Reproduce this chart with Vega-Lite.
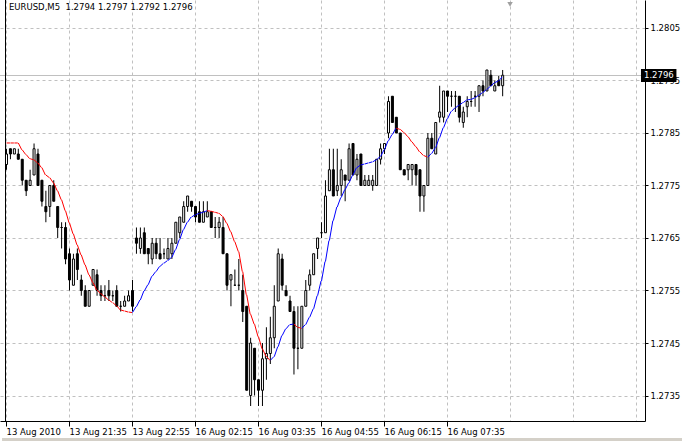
{
  "$schema": "https://vega.github.io/schema/vega-lite/v6.json",
  "width": 645,
  "height": 421,
  "autosize": "none",
  "padding": {"left": 0, "top": 0, "right": 37, "bottom": 20},
  "background": "white",
  "config": {"view": {"stroke": null}},
  "data": {"values": [
    {"i":0,"o":1.2779,"h":1.2782,"l":1.2778,"c":1.2781,"m":1.27831},
    {"i":1,"o":1.2782,"h":1.2782,"l":1.2780,"c":1.2781,"m":1.27831},
    {"i":2,"o":1.2781,"h":1.2782,"l":1.2781,"c":1.2782,"m":1.27831},
    {"i":3,"o":1.2781,"h":1.2782,"l":1.2780,"c":1.2780,"m":1.27831},
    {"i":4,"o":1.2780,"h":1.2780,"l":1.2775,"c":1.2776,"m":1.27818},
    {"i":5,"o":1.2776,"h":1.2776,"l":1.2773,"c":1.2774,"m":1.27809},
    {"i":6,"o":1.2775,"h":1.2778,"l":1.2775,"c":1.2776,"m":1.27801},
    {"i":7,"o":1.2777,"h":1.2783,"l":1.2777,"c":1.2782,"m":1.27799},
    {"i":8,"o":1.2781,"h":1.2782,"l":1.2775,"c":1.2775,"m":1.27793},
    {"i":9,"o":1.2776,"h":1.2776,"l":1.2771,"c":1.2772,"m":1.27784},
    {"i":10,"o":1.2771,"h":1.2774,"l":1.2768,"c":1.2770,"m":1.27770},
    {"i":11,"o":1.2771,"h":1.2775,"l":1.2769,"c":1.2775,"m":1.27765},
    {"i":12,"o":1.2775,"h":1.2776,"l":1.2772,"c":1.2772,"m":1.27755},
    {"i":13,"o":1.2771,"h":1.2771,"l":1.2765,"c":1.2767,"m":1.27740},
    {"i":14,"o":1.2767,"h":1.2768,"l":1.2763,"c":1.2767,"m":1.27723},
    {"i":15,"o":1.2767,"h":1.2768,"l":1.2760,"c":1.2761,"m":1.27702},
    {"i":16,"o":1.2762,"h":1.2763,"l":1.2755,"c":1.2757,"m":1.27679},
    {"i":17,"o":1.2756,"h":1.2762,"l":1.2756,"c":1.2761,"m":1.27658},
    {"i":18,"o":1.2762,"h":1.2763,"l":1.2757,"c":1.2759,"m":1.27637},
    {"i":19,"o":1.2757,"h":1.2758,"l":1.2754,"c":1.2755,"m":1.27618},
    {"i":20,"o":1.2755,"h":1.2756,"l":1.2752,"c":1.2752,"m":1.27599},
    {"i":21,"o":1.2752,"h":1.2755,"l":1.2752,"c":1.2755,"m":1.27580},
    {"i":22,"o":1.2756,"h":1.2759,"l":1.2756,"c":1.2759,"m":1.27565},
    {"i":23,"o":1.2758,"h":1.2759,"l":1.2754,"c":1.2755,"m":1.27551},
    {"i":24,"o":1.2755,"h":1.2756,"l":1.2753,"c":1.2754,"m":1.27544},
    {"i":25,"o":1.2754,"h":1.2756,"l":1.2753,"c":1.2754,"m":1.27538},
    {"i":26,"o":1.2755,"h":1.2757,"l":1.2753,"c":1.2754,"m":1.27532},
    {"i":27,"o":1.2754,"h":1.2755,"l":1.2753,"c":1.2754,"m":1.27527},
    {"i":28,"o":1.2755,"h":1.2756,"l":1.2752,"c":1.2752,"m":1.27521},
    {"i":29,"o":1.2752,"h":1.2753,"l":1.2751,"c":1.2752,"m":1.27513},
    {"i":30,"o":1.2752,"h":1.2754,"l":1.2752,"c":1.2753,"m":1.27511},
    {"i":31,"o":1.2753,"h":1.2755,"l":1.2753,"c":1.2754,"m":1.27509},
    {"i":32,"o":1.2755,"h":1.2757,"l":1.2751,"c":1.2752,"m":1.27508},
    {"i":33,"o":1.2765,"h":1.2767,"l":1.2762,"c":1.2764,"m":1.27519},
    {"i":34,"o":1.2763,"h":1.2767,"l":1.2762,"c":1.2765,"m":1.27532},
    {"i":35,"o":1.2766,"h":1.2767,"l":1.2762,"c":1.2762,"m":1.27549},
    {"i":36,"o":1.2763,"h":1.2763,"l":1.2760,"c":1.2762,"m":1.27561},
    {"i":37,"o":1.2761,"h":1.2765,"l":1.2760,"c":1.2764,"m":1.27577},
    {"i":38,"o":1.2764,"h":1.2765,"l":1.2761,"c":1.2762,"m":1.27586},
    {"i":39,"o":1.2762,"h":1.2765,"l":1.2761,"c":1.2761,"m":1.27596},
    {"i":40,"o":1.2762,"h":1.2763,"l":1.2761,"c":1.2762,"m":1.27602},
    {"i":41,"o":1.2761,"h":1.2765,"l":1.2761,"c":1.2763,"m":1.27607},
    {"i":42,"o":1.2762,"h":1.2765,"l":1.2761,"c":1.2764,"m":1.27613},
    {"i":43,"o":1.2764,"h":1.2768,"l":1.2764,"c":1.2768,"m":1.27628},
    {"i":44,"o":1.2766,"h":1.2769,"l":1.2765,"c":1.2769,"m":1.27647},
    {"i":45,"o":1.2768,"h":1.2772,"l":1.2768,"c":1.2771,"m":1.27666},
    {"i":46,"o":1.2771,"h":1.2773,"l":1.2770,"c":1.2773,"m":1.27680},
    {"i":47,"o":1.2772,"h":1.2772,"l":1.2770,"c":1.2771,"m":1.27690},
    {"i":48,"o":1.2771,"h":1.2771,"l":1.2768,"c":1.2769,"m":1.27694},
    {"i":49,"o":1.2770,"h":1.2772,"l":1.2768,"c":1.2768,"m":1.27697},
    {"i":50,"o":1.2768,"h":1.2772,"l":1.2768,"c":1.2770,"m":1.27699},
    {"i":51,"o":1.2769,"h":1.2772,"l":1.2769,"c":1.2770,"m":1.27702},
    {"i":52,"o":1.2770,"h":1.2770,"l":1.2767,"c":1.2767,"m":1.27701},
    {"i":53,"o":1.2767,"h":1.2769,"l":1.2765,"c":1.2767,"m":1.27699},
    {"i":54,"o":1.2767,"h":1.2769,"l":1.2765,"c":1.2768,"m":1.27697},
    {"i":55,"o":1.2767,"h":1.2769,"l":1.2762,"c":1.2762,"m":1.27691},
    {"i":56,"o":1.2762,"h":1.2762,"l":1.2755,"c":1.2756,"m":1.27678},
    {"i":57,"o":1.2757,"h":1.2758,"l":1.2752,"c":1.2758,"m":1.27662},
    {"i":58,"o":1.2756,"h":1.2759,"l":1.2756,"c":1.2756,"m":1.27643},
    {"i":59,"o":1.2756,"h":1.2761,"l":1.2755,"c":1.2756,"m":1.27624},
    {"i":60,"o":1.2755,"h":1.2758,"l":1.2749,"c":1.2751,"m":1.27586},
    {"i":61,"o":1.2752,"h":1.2752,"l":1.2736,"c":1.2736,"m":1.27542},
    {"i":62,"o":1.2735,"h":1.2746,"l":1.2733,"c":1.2745,"m":1.27505},
    {"i":63,"o":1.2744,"h":1.2744,"l":1.2735,"c":1.2738,"m":1.27486},
    {"i":64,"o":1.2738,"h":1.2738,"l":1.2733,"c":1.2736,"m":1.27462},
    {"i":65,"o":1.2736,"h":1.2745,"l":1.2733,"c":1.2742,"m":1.27439},
    {"i":66,"o":1.2742,"h":1.2748,"l":1.2738,"c":1.2743,"m":1.27425},
    {"i":67,"o":1.2743,"h":1.2750,"l":1.2741,"c":1.2746,"m":1.27417},
    {"i":68,"o":1.2746,"h":1.2756,"l":1.2744,"c":1.2752,"m":1.27424},
    {"i":69,"o":1.2753,"h":1.2763,"l":1.2753,"c":1.2762,"m":1.27443},
    {"i":70,"o":1.2761,"h":1.2762,"l":1.2755,"c":1.2756,"m":1.27464},
    {"i":71,"o":1.2755,"h":1.2756,"l":1.2754,"c":1.2754,"m":1.27477},
    {"i":72,"o":1.2753,"h":1.2754,"l":1.2751,"c":1.2751,"m":1.27485},
    {"i":73,"o":1.2751,"h":1.2752,"l":1.2739,"c":1.2744,"m":1.27486},
    {"i":74,"o":1.2744,"h":1.2752,"l":1.2740,"c":1.2744,"m":1.27480},
    {"i":75,"o":1.2744,"h":1.2752,"l":1.2744,"c":1.2752,"m":1.27478},
    {"i":76,"o":1.2752,"h":1.2757,"l":1.2752,"c":1.2755,"m":1.27485},
    {"i":77,"o":1.2756,"h":1.2759,"l":1.2755,"c":1.2758,"m":1.27499},
    {"i":78,"o":1.2758,"h":1.2762,"l":1.2758,"c":1.2762,"m":1.27515},
    {"i":79,"o":1.2763,"h":1.2765,"l":1.2761,"c":1.2765,"m":1.27540},
    {"i":80,"o":1.2766,"h":1.2768,"l":1.2765,"c":1.2766,"m":1.27568},
    {"i":81,"o":1.2766,"h":1.2776,"l":1.2766,"c":1.2773,"m":1.27605},
    {"i":82,"o":1.2774,"h":1.2782,"l":1.2774,"c":1.2778,"m":1.27645},
    {"i":83,"o":1.2778,"h":1.2782,"l":1.2773,"c":1.2773,"m":1.27683},
    {"i":84,"o":1.2774,"h":1.2782,"l":1.2773,"c":1.2775,"m":1.27709},
    {"i":85,"o":1.2775,"h":1.2780,"l":1.2773,"c":1.2778,"m":1.27727},
    {"i":86,"o":1.2777,"h":1.2777,"l":1.2772,"c":1.2776,"m":1.27742},
    {"i":87,"o":1.2776,"h":1.2783,"l":1.2776,"c":1.2782,"m":1.27755},
    {"i":88,"o":1.2783,"h":1.2783,"l":1.2777,"c":1.2777,"m":1.27770},
    {"i":89,"o":1.2777,"h":1.2781,"l":1.2776,"c":1.2780,"m":1.27784},
    {"i":90,"o":1.2781,"h":1.2781,"l":1.2775,"c":1.2775,"m":1.27789},
    {"i":91,"o":1.2775,"h":1.2777,"l":1.2775,"c":1.2776,"m":1.27791},
    {"i":92,"o":1.2775,"h":1.2777,"l":1.2775,"c":1.2776,"m":1.27793},
    {"i":93,"o":1.2775,"h":1.2777,"l":1.2774,"c":1.2776,"m":1.27795},
    {"i":94,"o":1.2775,"h":1.2780,"l":1.2775,"c":1.2780,"m":1.27799},
    {"i":95,"o":1.2780,"h":1.2783,"l":1.2779,"c":1.2782,"m":1.27805},
    {"i":96,"o":1.2782,"h":1.2783,"l":1.2781,"c":1.2783,"m":1.27818},
    {"i":97,"o":1.2785,"h":1.2792,"l":1.2784,"c":1.2791,"m":1.27835},
    {"i":98,"o":1.2792,"h":1.2792,"l":1.2787,"c":1.2787,"m":1.27847},
    {"i":99,"o":1.2788,"h":1.2788,"l":1.2785,"c":1.2785,"m":1.27859},
    {"i":100,"o":1.2785,"h":1.2785,"l":1.2778,"c":1.2778,"m":1.27857},
    {"i":101,"o":1.2778,"h":1.2778,"l":1.2777,"c":1.2777,"m":1.27851},
    {"i":102,"o":1.2778,"h":1.2779,"l":1.2776,"c":1.2779,"m":1.27843},
    {"i":103,"o":1.2778,"h":1.2779,"l":1.2775,"c":1.2779,"m":1.27833},
    {"i":104,"o":1.2779,"h":1.2779,"l":1.2775,"c":1.2777,"m":1.27824},
    {"i":105,"o":1.2778,"h":1.2778,"l":1.2770,"c":1.2773,"m":1.27814},
    {"i":106,"o":1.2773,"h":1.2775,"l":1.2770,"c":1.2775,"m":1.27807},
    {"i":107,"o":1.2775,"h":1.2785,"l":1.2775,"c":1.2784,"m":1.27804},
    {"i":108,"o":1.2784,"h":1.2785,"l":1.2782,"c":1.2782,"m":1.27811},
    {"i":109,"o":1.2781,"h":1.2787,"l":1.2781,"c":1.2787,"m":1.27822},
    {"i":110,"o":1.2788,"h":1.2794,"l":1.2787,"c":1.2789,"m":1.27841},
    {"i":111,"o":1.2788,"h":1.2793,"l":1.2787,"c":1.2793,"m":1.27860},
    {"i":112,"o":1.2793,"h":1.2793,"l":1.2789,"c":1.2792,"m":1.27877},
    {"i":113,"o":1.2792,"h":1.2793,"l":1.2790,"c":1.2792,"m":1.27891},
    {"i":114,"o":1.2792,"h":1.2793,"l":1.2789,"c":1.2792,"m":1.27898},
    {"i":115,"o":1.2792,"h":1.2792,"l":1.2787,"c":1.2788,"m":1.27903},
    {"i":116,"o":1.2787,"h":1.2790,"l":1.2786,"c":1.2789,"m":1.27908},
    {"i":117,"o":1.2790,"h":1.2792,"l":1.2788,"c":1.2791,"m":1.27913},
    {"i":118,"o":1.2791,"h":1.2793,"l":1.2790,"c":1.2791,"m":1.27914},
    {"i":119,"o":1.2792,"h":1.2793,"l":1.2790,"c":1.2792,"m":1.27917},
    {"i":120,"o":1.2792,"h":1.2794,"l":1.2789,"c":1.2794,"m":1.27922},
    {"i":121,"o":1.2794,"h":1.2795,"l":1.2792,"c":1.2793,"m":1.27927},
    {"i":122,"o":1.2793,"h":1.2797,"l":1.2793,"c":1.2797,"m":1.27933},
    {"i":123,"o":1.2796,"h":1.2797,"l":1.2794,"c":1.2794,"m":1.27939},
    {"i":124,"o":1.2793,"h":1.2795,"l":1.2793,"c":1.2794,"m":1.27946},
    {"i":125,"o":1.2795,"h":1.2796,"l":1.2794,"c":1.2794,"m":1.27949},
    {"i":126,"o":1.2794,"h":1.2797,"l":1.2792,"c":1.2796,"m":1.27957}
  ]},
  "layer": [
    {
      "mark": {"type": "rule", "color": "#000000", "strokeWidth": 1, "xOffset": 0.5},
      "encoding": {
        "x": {"field": "i", "type": "quantitative", "title": null,
          "scale": {"domain": [-0.25, 161], "nice": false, "zero": false},
          "axis": {"orient": "bottom", "title": null, "values": [0,8,16,24,32,40,48,56,64,72,80,88,96,104,112,120,128,136,144,152,160],
            "grid": true, "gridColor": "#c0c0c0", "gridDash": [3,3], "gridWidth": 1,
            "domain": true, "domainColor": "#000000", "domainWidth": 1,
            "ticks": true, "tickColor": "#000000", "tickSize": 5, "tickWidth": 1,
            "tickOpacity": {"condition": {"test": "datum.value % 16 === 0 && datum.value <= 112", "value": 1}, "value": 0},
            "labelExpr": "datum.value % 16 === 0 && datum.value <= 112 ? ['13 Aug 2010','13 Aug 21:35','13 Aug 22:55','16 Aug 02:15','16 Aug 03:35','16 Aug 04:55','16 Aug 06:15','16 Aug 07:35'][datum.value / 16] : ''",
            "labelAlign": "left", "labelBaseline": "top", "labelPadding": 1, "labelFont": "DejaVu Sans", "labelFontSize": 8.5, "labelColor": "#000000",
            "labelOverlap": false, "labelFlush": false, "labelBound": false}},
        "y": {"field": "l", "type": "quantitative", "title": null,
          "scale": {"domain": [1.2730143, 1.2810333], "nice": false, "zero": false},
          "axis": {"orient": "right", "title": null, "values": [1.2735,1.2745,1.2755,1.2765,1.2775,1.2785,1.2795,1.2805], "format": ".4f",
            "grid": true, "gridColor": "#c0c0c0", "gridDash": [3,3], "gridWidth": 1,
            "domain": true, "domainColor": "#000000", "domainWidth": 1,
            "ticks": true, "tickColor": "#000000", "tickSize": 3, "tickWidth": 1,
            "labelPadding": 2, "labelFont": "DejaVu Sans", "labelFontSize": 8.5, "labelColor": "#000000", "labelBaseline": "middle",
            "labelOverlap": false, "labelFlush": false, "labelBound": false}},
        "y2": {"field": "h"}
      }
    },
    {
      "data": {"values": [{"bid": 1.2796}]},
      "mark": {"type": "rule", "color": "#c0c0c0", "strokeWidth": 1, "yOffset": 0.25},
      "encoding": {"y": {"field": "bid", "type": "quantitative", "title": null}}
    },
    {
      "mark": {"type": "bar", "width": 2, "stroke": "#000000", "strokeWidth": 1, "xOffset": 0.5},
      "encoding": {
        "x": {"field": "i", "type": "quantitative", "title": null},
        "y": {"field": "o", "type": "quantitative", "title": null},
        "y2": {"field": "c"},
        "fill": {"condition": {"test": "datum.c < datum.o", "value": "#000000"}, "value": "#ffffff"}
      }
    },
    {
      "transform": [
        {"window": [{"op": "lead", "field": "m", "as": "n"}, {"op": "lead", "field": "i", "as": "j"}], "sort": [{"field": "i", "order": "ascending"}]},
        {"filter": "datum.n != null"}
      ],
      "mark": {"type": "rule", "strokeWidth": 1, "xOffset": 0.5},
      "encoding": {
        "x": {"field": "i", "type": "quantitative", "title": null},
        "x2": {"field": "j"},
        "y": {"field": "m", "type": "quantitative", "title": null},
        "y2": {"field": "n"},
        "color": {"condition": {"test": "datum.n > datum.m", "value": "#0000ff"}, "value": "#ff0000"}
      }
    },
    {
      "data": {"values": [{}]},
      "mark": {"type": "rule", "color": "#000000", "strokeWidth": 1, "xOffset": 0.5},
      "encoding": {"x": {"datum": -0.25, "type": "quantitative", "title": null}}
    },
    {
      "data": {"values": [{}]},
      "mark": {"type": "text", "color": "#000000", "align": "left", "baseline": "top", "dx": 4, "dy": 3, "font": "DejaVu Sans", "fontSize": 8.5, "text": "EURUSD,M5\u00a0 1.2794 1.2797 1.2792 1.2796"},
      "encoding": {"x": {"datum": -0.25, "type": "quantitative", "title": null}, "y": {"datum": 1.2810333, "type": "quantitative", "title": null}}
    },
    {
      "data": {"values": [{}]},
      "mark": {"type": "point", "shape": "triangle-down", "filled": true, "color": "#a0a0a0", "size": 30, "opacity": 1},
      "encoding": {"x": {"datum": 128, "type": "quantitative", "title": null}, "y": {"datum": 1.28095, "type": "quantitative", "title": null}}
    },
    {
      "data": {"values": [{}]},
      "mark": {"type": "rect", "color": "#d4d0c8"},
      "encoding": {
        "x": {"datum": -1, "type": "quantitative", "title": null},
        "x2": {"datum": 172},
        "y": {"datum": 1.2726905, "type": "quantitative", "title": null},
        "y2": {"datum": 1.2725}
      }
    },
    {
      "data": {"values": [{}]},
      "mark": {"type": "rect", "color": "#000000"},
      "encoding": {
        "x": {"datum": 161.25, "type": "quantitative", "title": null},
        "x2": {"datum": 170.25},
        "y": {"datum": 1.279719, "type": "quantitative", "title": null},
        "y2": {"datum": 1.279471}
      }
    },
    {
      "data": {"values": [{}]},
      "mark": {"type": "text", "color": "#ffffff", "align": "left", "baseline": "middle", "dx": 3, "font": "DejaVu Sans", "fontSize": 8.5, "text": "1.2796"},
      "encoding": {
        "x": {"datum": 161.25, "type": "quantitative", "title": null},
        "y": {"datum": 1.2796, "type": "quantitative", "title": null}
      }
    }
  ]
}
